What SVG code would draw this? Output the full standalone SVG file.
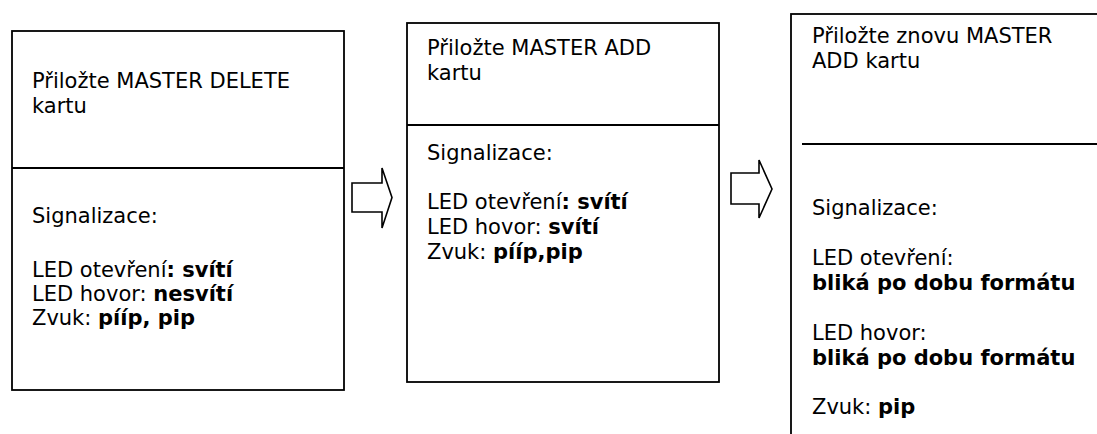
<svg xmlns="http://www.w3.org/2000/svg" width="1097" height="434" viewBox="0 0 1097 434">
<style>
.box{fill:#fff;stroke:#000;stroke-width:1.8}
.ln{stroke:#000;stroke-width:1.8}
.arr{fill:#fff;stroke:#000;stroke-width:1.6;stroke-linejoin:miter}
text{font-family:"DejaVu Sans","Verdana",sans-serif;font-size:21px;fill:#000}
.b{font-weight:bold}
</style>
<rect width="1097" height="434" fill="#fff"/>
<g id="connectors">
<polygon class="arr" points="352,183 382,183 382,168 392,197.5 382,228 382,212 352,212"/>
<polygon class="arr" points="731,173 759,173 759,160 772,189 759,218 759,204 731,204"/>
</g>
<g id="node1">
<rect class="box" x="12" y="31" width="332" height="359"/>
<line class="ln" x1="12" y1="168" x2="344" y2="168"/>
<text x="32" y="88">Přiložte MASTER DELETE</text>
<text x="32" y="113">kartu</text>
<text x="32" y="223">Signalizace:</text>
<text x="32" y="277">LED otevření<tspan class="b">: svítí</tspan></text>
<text x="32" y="301">LED hovor: <tspan class="b">nesvítí</tspan></text>
<text x="32" y="325">Zvuk: <tspan class="b">pííp, pip</tspan></text>
</g>
<g id="node2">
<rect class="box" x="407" y="23" width="312" height="359"/>
<line class="ln" x1="407" y1="125" x2="719" y2="125"/>
<text x="427" y="55">Přiložte MASTER ADD</text>
<text x="427" y="80">kartu</text>
<text x="427" y="160">Signalizace:</text>
<text x="427" y="209">LED otevření<tspan class="b">: svítí</tspan></text>
<text x="427" y="234">LED hovor: <tspan class="b">svítí</tspan></text>
<text x="427" y="259">Zvuk: <tspan class="b">pííp,pip</tspan></text>
</g>
<g id="node3">
<rect class="box" x="791" y="14" width="330" height="440"/>
<line class="ln" x1="802" y1="144" x2="1097" y2="144"/>
<text x="812" y="43">Přiložte znovu MASTER</text>
<text x="812" y="68">ADD kartu</text>
<text x="812" y="215">Signalizace:</text>
<text x="812" y="265">LED otevření:</text>
<text x="812" y="290" class="b">bliká po dobu formátu</text>
<text x="812" y="340">LED hovor:</text>
<text x="812" y="365" class="b">bliká po dobu formátu</text>
<text x="812" y="414">Zvuk: <tspan class="b">pip</tspan></text>
</g>
</svg>
